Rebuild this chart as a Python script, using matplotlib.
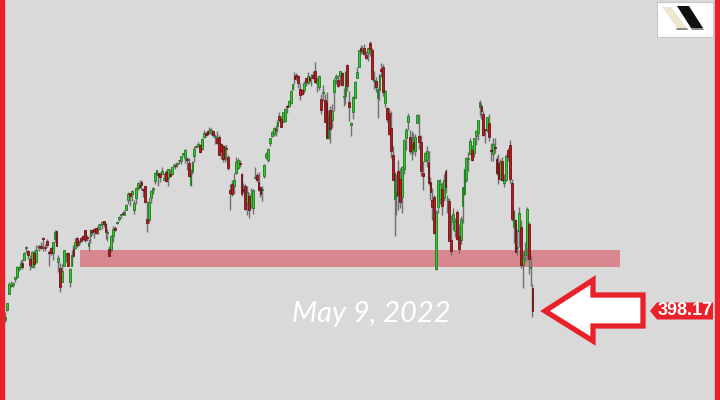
import matplotlib
matplotlib.use('Agg')
import matplotlib.pyplot as plt
import numpy as np
from matplotlib.patches import Polygon, Rectangle
from matplotlib.transforms import IdentityTransform

# SPY daily candles, 2021-03-31 .. 2022-05-09 (one row per month in each list)
opens = [
    395.34,
    398.40, 403.46, 405.76, 405.94, 407.93, 408.39, 410.85, 411.53, 412.83, 413.74, 417.25, 416.26, 413.91, 411.51, 415.89, 412.87, 417.44, 417.93, 417.81, 420.32, 417.63,
    419.43, 416.07, 417.38, 415.83, 419.89, 422.50, 413.10, 411.23, 407.07, 411.80, 415.39, 415.80, 406.92, 411.80, 416.87, 417.34, 420.33, 418.87, 420.17, 420.97,
    422.57, 420.37, 417.85, 420.75, 422.59, 423.11, 423.18, 422.96, 424.20, 424.43, 425.42, 424.63, 421.67, 417.09, 416.80, 420.85, 423.19, 424.89, 425.90, 427.17, 427.88, 427.21,
    428.87, 431.67, 433.78, 433.66, 428.78, 432.53, 435.43, 436.24, 437.40, 434.81, 436.01, 426.19, 425.68, 432.34, 434.74, 437.52, 439.31, 439.91, 439.68, 439.82, 437.91,
    440.34, 438.44, 439.78, 439.74, 442.10, 442.46, 442.61, 443.82, 443.62, 445.59, 444.53, 444.24, 442.96, 436.27, 440.23, 445.16, 447.97, 448.17, 448.61, 447.12, 450.97, 452.13,
    452.56, 453.32, 451.98, 452.71, 450.89, 450.70, 451.04, 448.64, 448.12, 444.62, 447.32, 444.92, 434.88, 436.53, 436.05, 439.85, 441.44, 442.81, 439.69, 435.19, 436.02,
    430.98, 433.00, 430.24, 429.27, 438.39, 439.48, 437.16, 435.67, 434.71, 439.08, 444.75, 443.97, 448.92, 451.13, 451.77, 453.13, 454.28, 457.20, 456.45, 455.46, 455.87,
    460.30, 460.22, 461.30, 465.36, 469.28, 469.70, 469.32, 465.58, 465.21, 465.12, 468.64, 467.15, 469.00, 469.24, 469.61, 470.89, 467.22, 466.06, 462.34, 464.07, 462.00,
    461.64, 450.73, 459.17, 456.13, 464.41, 468.70, 468.15, 469.23, 470.19, 463.09, 463.42, 472.57, 461.55, 454.48, 458.61, 462.79, 468.75, 472.06, 477.72, 476.98, 477.93, 475.64,
    476.30, 479.22, 477.16, 467.89, 467.95, 462.70, 465.23, 471.59, 472.19, 461.19, 459.74, 458.13, 453.75, 445.56, 432.03, 433.06, 440.72, 438.26, 432.68, 441.24,
    450.68, 455.50, 450.95, 446.35, 449.51, 446.73, 455.22, 451.34, 449.41, 439.92, 443.73, 443.93, 443.22, 437.33, 431.89, 432.66, 411.02, 429.61, 432.03,
    435.04, 432.37, 440.47, 431.75, 431.55, 419.62, 425.14, 422.52, 428.12, 420.89, 419.77, 429.89, 433.59, 438.00, 444.34, 445.86, 446.91, 445.94, 451.16, 452.06, 460.02, 460.34, 457.89,
    453.31, 453.13, 455.22, 446.89, 445.59, 447.97, 444.11, 443.08, 438.03, 443.55, 436.81, 437.86, 446.92, 448.54, 436.91, 423.67, 425.83, 417.24, 422.29, 423.59,
    412.07, 415.01, 417.08, 424.55, 411.10, 405.10,
]
highs = [
    398.00,
    400.67, 406.94, 407.24, 406.96, 408.58, 411.67, 411.93, 413.53, 413.96, 416.16, 417.91, 416.74, 415.09, 416.29, 416.78, 418.25, 418.22, 418.14, 419.01, 420.72, 418.54,
    419.84, 416.60, 417.63, 419.21, 422.82, 422.74, 415.27, 412.59, 412.35, 416.63, 415.59, 416.06, 411.05, 416.63, 418.20, 420.32, 420.71, 419.61, 420.72, 421.25,
    422.72, 421.23, 419.99, 422.92, 422.78, 423.21, 423.26, 424.63, 424.43, 425.37, 425.46, 424.87, 423.02, 417.83, 421.06, 424.00, 424.05, 425.55, 427.09, 427.65, 428.56, 428.78,
    430.60, 434.10, 434.01, 434.76, 431.73, 435.84, 437.35, 437.84, 437.92, 435.53, 436.06, 431.41, 432.42, 434.70, 435.72, 440.30, 441.03, 439.94, 440.30, 441.80, 440.06,
    440.93, 441.28, 441.12, 441.85, 442.94, 442.80, 443.44, 443.88, 445.26, 445.94, 447.11, 444.96, 444.63, 441.14, 443.71, 448.23, 448.54, 449.46, 448.86, 450.65, 453.07, 452.49,
    453.11, 454.05, 453.63, 452.81, 451.67, 452.57, 451.47, 448.92, 448.34, 448.41, 448.36, 445.37, 436.56, 437.91, 440.03, 444.89, 444.67, 444.05, 440.04, 437.04, 436.77,
    436.03, 433.96, 435.49, 435.12, 441.68, 439.89, 440.26, 436.10, 436.05, 442.66, 446.26, 447.55, 450.71, 452.73, 453.83, 454.67, 455.90, 458.49, 457.16, 458.40, 459.56,
    460.70, 462.23, 465.15, 467.00, 470.65, 470.23, 469.57, 467.38, 465.29, 467.86, 468.81, 470.49, 469.19, 470.01, 470.94, 473.54, 469.10, 469.57, 463.90, 466.56, 464.03,
    464.67, 459.07, 460.30, 460.79, 468.88, 470.00, 469.63, 470.90, 470.56, 465.74, 470.86, 472.87, 464.74, 455.40, 463.21, 467.81, 472.19, 477.31, 478.81, 478.56, 479.00, 476.86,
    477.85, 479.98, 477.98, 470.82, 469.20, 465.74, 469.85, 473.20, 472.88, 465.09, 459.96, 459.61, 458.74, 448.06, 440.38, 439.72, 444.04, 441.59, 442.00, 450.28,
    453.63, 458.12, 452.97, 452.78, 451.99, 451.92, 457.88, 457.71, 451.61, 443.50, 446.28, 448.06, 446.57, 438.66, 435.50, 433.26, 428.76, 437.84, 438.20,
    437.17, 439.72, 441.11, 433.37, 432.30, 427.21, 429.51, 426.43, 428.77, 424.55, 426.84, 435.68, 441.07, 444.86, 446.46, 450.58, 448.49, 450.50, 452.98, 455.91, 462.07, 461.20, 458.76,
    453.46, 456.91, 457.83, 448.93, 450.69, 450.63, 445.00, 445.75, 444.11, 444.73, 439.75, 445.80, 447.57, 450.01, 438.08, 428.69, 426.04, 422.92, 429.64, 425.87,
    415.92, 418.93, 429.66, 425.00, 414.80, 406.41,
]
lows = [
    394.85,
    398.18, 403.38, 405.40, 405.45, 406.93, 408.26, 410.20, 411.12, 410.87, 413.69, 415.73, 413.79, 410.59, 411.36, 411.13, 412.79, 416.81, 416.30, 416.90, 416.44, 416.34,
    417.67, 411.67, 415.15, 413.68, 419.16, 417.81, 410.06, 404.00, 407.02, 411.67, 413.02, 411.77, 405.33, 411.67, 414.45, 417.08, 417.62, 417.76, 418.99, 419.79,
    419.20, 419.29, 416.28, 418.84, 421.19, 420.32, 421.41, 421.55, 422.82, 423.10, 423.54, 419.92, 419.32, 414.70, 415.93, 419.17, 422.51, 424.62, 425.55, 426.30, 427.13, 427.18,
    428.80, 430.52, 430.01, 431.51, 427.52, 430.71, 434.97, 435.31, 434.91, 432.72, 430.92, 421.97, 424.83, 431.01, 433.69, 436.79, 439.26, 435.99, 437.31, 439.81, 437.77,
    437.21, 436.10, 438.73, 439.32, 441.80, 441.31, 441.88, 442.62, 442.66, 445.07, 442.87, 440.85, 438.92, 436.12, 439.71, 443.44, 447.42, 447.77, 446.16, 447.06, 450.71, 450.92,
    451.55, 451.91, 451.55, 450.74, 448.86, 448.72, 445.31, 444.11, 443.22, 443.44, 444.02, 441.02, 428.86, 433.07, 433.75, 439.60, 441.21, 441.90, 432.94, 433.85, 428.78,
    427.23, 426.36, 429.39, 427.54, 438.20, 437.19, 434.62, 432.78, 431.54, 438.58, 444.09, 443.27, 448.27, 451.01, 451.31, 451.05, 452.39, 455.56, 453.86, 455.45, 455.56,
    458.20, 460.08, 460.83, 464.99, 466.92, 468.20, 465.88, 462.04, 463.75, 464.11, 466.23, 467.07, 467.48, 466.34, 468.50, 467.35, 464.45, 465.19, 457.77, 461.73, 455.30,
    450.29, 450.31, 448.92, 453.56, 458.65, 466.83, 466.14, 466.51, 466.27, 460.25, 460.74, 464.80, 455.71, 451.14, 456.31, 462.58, 468.64, 472.01, 476.06, 475.92, 475.67, 474.67,
    473.85, 475.58, 468.28, 465.43, 464.65, 456.60, 462.05, 468.94, 463.44, 459.90, 455.31, 451.46, 444.50, 437.95, 420.76, 427.15, 428.86, 429.45, 427.82, 439.81,
    446.94, 453.05, 445.71, 443.83, 445.85, 445.22, 455.01, 447.20, 438.94, 434.84, 443.18, 441.94, 436.42, 431.82, 425.86, 421.35, 410.64, 427.86, 430.70,
    427.11, 431.57, 433.80, 427.88, 419.36, 415.12, 422.82, 420.44, 419.53, 415.79, 418.42, 424.80, 433.19, 437.22, 440.68, 445.86, 443.71, 444.76, 448.43, 450.06, 457.18, 456.47, 451.16,
    449.14, 452.26, 449.82, 443.47, 443.53, 445.94, 439.39, 436.65, 437.84, 437.68, 435.61, 437.68, 443.48, 437.10, 425.44, 418.84, 416.07, 415.01, 417.60, 411.21,
    405.02, 413.36, 413.71, 409.44, 405.73, 396.50,
]
closes = [
    396.33,
    400.61, 406.36, 406.12, 406.59, 408.52, 411.49, 411.64, 412.86, 411.45, 415.87, 417.26, 415.21, 412.17, 416.07, 412.27, 416.74, 417.61, 417.52, 417.40, 420.06, 417.30,
    418.20, 415.62, 415.75, 419.07, 422.12, 417.94, 414.21, 405.41, 410.28, 416.58, 415.52, 411.94, 410.86, 415.28, 414.94, 419.17, 418.24, 419.07, 419.29, 420.04,
    419.67, 420.33, 418.77, 422.60, 422.19, 422.28, 421.65, 423.61, 424.31, 425.26, 424.48, 422.11, 421.97, 414.92, 420.86, 423.11, 422.60, 425.10, 426.61, 427.47, 427.70, 428.06,
    430.43, 433.72, 432.93, 434.46, 430.92, 435.52, 437.08, 435.59, 436.24, 434.75, 431.34, 424.97, 431.06, 434.55, 435.46, 439.94, 441.02, 439.01, 438.83, 440.65, 438.51,
    437.59, 441.15, 438.98, 441.76, 442.49, 442.13, 442.68, 443.78, 445.11, 445.92, 446.97, 444.04, 439.18, 439.86, 443.36, 447.26, 447.97, 448.91, 446.26, 450.25, 452.23, 451.56,
    451.80, 453.19, 453.08, 451.46, 450.91, 448.98, 445.44, 446.58, 444.17, 447.88, 447.17, 441.40, 434.04, 433.63, 437.86, 443.18, 443.91, 442.64, 433.72, 434.45, 429.14,
    434.24, 428.64, 433.10, 434.90, 438.66, 437.86, 434.69, 433.62, 435.18, 442.50, 445.87, 447.19, 450.64, 452.41, 453.59, 453.12, 455.55, 455.96, 453.94, 458.32, 459.25,
    460.04, 461.90, 464.72, 466.91, 468.53, 468.93, 467.38, 463.62, 463.77, 467.27, 467.43, 469.28, 468.14, 469.73, 468.89, 467.57, 468.19, 469.44, 458.97, 464.60, 455.56,
    450.50, 457.40, 453.42, 458.79, 468.28, 469.52, 466.35, 470.74, 466.57, 463.36, 470.60, 466.45, 459.87, 454.98, 463.06, 467.69, 470.60, 477.26, 476.87, 477.48, 476.16, 474.96,
    477.71, 477.55, 468.38, 467.94, 466.09, 465.51, 469.75, 471.02, 464.53, 464.72, 456.49, 451.75, 446.75, 437.98, 439.84, 434.47, 433.38, 431.24, 441.95, 449.91,
    452.95, 457.35, 446.60, 448.70, 447.26, 450.94, 457.54, 449.32, 440.46, 439.02, 446.10, 446.60, 437.06, 434.23, 429.57, 421.95, 428.30, 437.75, 436.63,
    429.98, 437.89, 435.71, 432.17, 419.43, 416.25, 427.41, 425.48, 420.07, 417.00, 426.17, 435.62, 441.07, 444.52, 444.39, 449.59, 443.80, 450.49, 452.69, 455.91, 461.55, 458.70, 451.64,
    452.92, 456.80, 451.03, 446.52, 448.77, 447.57, 439.92, 438.29, 443.31, 437.79, 437.97, 445.04, 444.71, 438.06, 426.04, 428.51, 416.10, 417.27, 427.81, 412.00,
    414.48, 416.38, 429.06, 413.81, 411.34, 398.17,
]
assert len(opens) == len(highs) == len(lows) == len(closes) == 280

# support zone drawn across the chart
zone_low, zone_high = 411.5, 416.6
zone_start, zone_end = 39.5, 325.5

BG = '#d9d9d9'
RED = '#e8212b'

o = np.array(opens); h = np.array(highs); l = np.array(lows); c = np.array(closes)
idx = np.arange(len(c))
up = c >= o

fig = plt.figure(figsize=(7.2, 4.0), dpi=100, facecolor=BG)
ax = fig.add_axes([0, 0, 1, 1])
ax.set_facecolor(BG)
ax.axis('off')

ax.fill_between([zone_start, zone_end], zone_low, zone_high, color='#d8878f', lw=0, zorder=1)

ax.vlines(idx, l, h, color='#707070', lw=1.0, zorder=2)
body_lo = np.minimum(o, c)
body_h = np.maximum(np.abs(c - o), 0.25)
ax.bar(idx[up], body_h[up], bottom=body_lo[up], width=0.95, color='#36c936',
       edgecolor='#1d7a1d', lw=0.6, zorder=3)
ax.bar(idx[~up], body_h[~up], bottom=body_lo[~up], width=0.95, color='#b81d22',
       edgecolor='#6e1014', lw=0.6, zorder=3)

ax.set_xlim(-2.9, 378.3)
ax.set_ylim(371.2, 492.4)
fig.canvas.draw()

# last close in pixel coordinates (origin bottom-left)
_, yc = ax.transData.transform((idx[-1], c[-1]))

# big arrow pointing to the last candle
tx = 545
arrow = [(tx, yc), (tx + 48, yc + 31), (tx + 48, yc + 16), (tx + 98, yc + 16),
         (tx + 98, yc - 15), (tx + 48, yc - 15), (tx + 48, yc - 30)]
fig.add_artist(Polygon(arrow, closed=True, transform=IdentityTransform(),
                       fc='white', ec=RED, lw=3.8, joinstyle='miter', zorder=5))

# price tag
tag = [(650, yc), (657, yc + 8.5), (713, yc + 8.5), (713, yc - 8.5), (657, yc - 8.5)]
fig.add_artist(Polygon(tag, closed=True, transform=IdentityTransform(),
                       fc=RED, ec='none', zorder=5))
fig.text(685 / 720, yc / 400, f'{c[-1]:.2f}', color='white', fontsize=13,
         family='Liberation Sans', weight='bold', ha='center', va='center', zorder=6)

# date caption
fig.text(371 / 720, 1 - 314 / 400, 'May 9, 2022', color='white', fontsize=21,
         family='Lato', style='italic', weight='normal', ha='center', va='center')

# red side borders
fig.add_artist(Rectangle((0, 0), 4 / 720, 1, transform=fig.transFigure, color=RED, zorder=7))
fig.add_artist(Rectangle((715 / 720, 0), 5 / 720, 1, transform=fig.transFigure, color=RED, zorder=7))

# logo box top right
def P(pts, **kw):
    return Polygon([(x, 400 - y) for x, y in pts], closed=True,
                   transform=IdentityTransform(), **kw)

fig.add_artist(P([(657, 2), (713, 2), (713, 37), (657, 37)], fc='white', ec='#c8c8c8', lw=0.8, zorder=6))
fig.add_artist(P([(676, 28), (687, 28), (688, 30), (677, 30)], fc='#8a8a8a', ec='none', zorder=7))
fig.add_artist(P([(691, 28), (703, 28), (704, 30), (692, 30)], fc='#8a8a8a', ec='none', zorder=7))
fig.add_artist(P([(662, 7), (671, 7), (687, 28), (677, 28)], fc='#ede6d0', ec='none', zorder=7))
fig.add_artist(P([(677, 6), (689, 6), (703, 28), (691, 28)], fc='#111111', ec='none', zorder=7))

fig.savefig('out.png', dpi=100, facecolor=BG)
